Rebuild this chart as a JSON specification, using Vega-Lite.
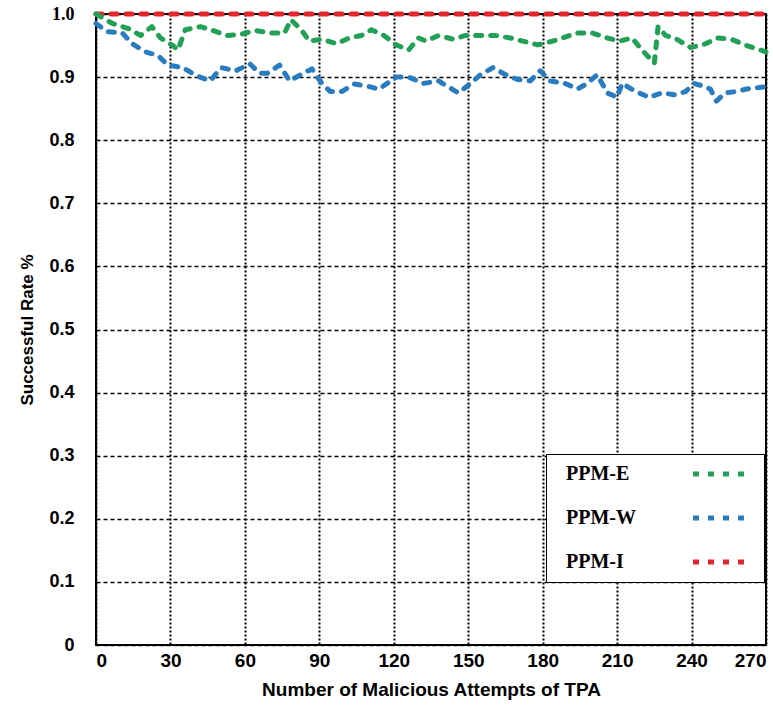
{
  "$schema": "https://vega.github.io/schema/vega-lite/v6.json",
  "width": 670,
  "height": 631,
  "autosize": {"type": "none"},
  "padding": {"left": 96, "top": 14, "right": 7, "bottom": 63},
  "background": "white",
  "config": {
    "view": {"stroke": "#000", "strokeWidth": 2},
    "axis": {"domain": false, "ticks": false, "grid": true, "gridColor": "#000", "gridOpacity": 1}
  },
  "data": {
    "values": [
      {"x": 0, "v": 1.0, "s": "PPM-I"},
      {"x": 270, "v": 1.0, "s": "PPM-I"},
      {"x": 0, "v": 1.0, "s": "PPM-E"},
      {"x": 6.6, "v": 0.985, "s": "PPM-E"},
      {"x": 13, "v": 0.977, "s": "PPM-E"},
      {"x": 18, "v": 0.966, "s": "PPM-E"},
      {"x": 22.5, "v": 0.98, "s": "PPM-E"},
      {"x": 26, "v": 0.962, "s": "PPM-E"},
      {"x": 31, "v": 0.95, "s": "PPM-E"},
      {"x": 33, "v": 0.943, "s": "PPM-E"},
      {"x": 36, "v": 0.975, "s": "PPM-E"},
      {"x": 42, "v": 0.98, "s": "PPM-E"},
      {"x": 47, "v": 0.974, "s": "PPM-E"},
      {"x": 53, "v": 0.966, "s": "PPM-E"},
      {"x": 58.5, "v": 0.968, "s": "PPM-E"},
      {"x": 64, "v": 0.974, "s": "PPM-E"},
      {"x": 70, "v": 0.97, "s": "PPM-E"},
      {"x": 76, "v": 0.97, "s": "PPM-E"},
      {"x": 78.5, "v": 0.991, "s": "PPM-E"},
      {"x": 82.5, "v": 0.976, "s": "PPM-E"},
      {"x": 86, "v": 0.957, "s": "PPM-E"},
      {"x": 91, "v": 0.96, "s": "PPM-E"},
      {"x": 97, "v": 0.953, "s": "PPM-E"},
      {"x": 102, "v": 0.962, "s": "PPM-E"},
      {"x": 107, "v": 0.966, "s": "PPM-E"},
      {"x": 111, "v": 0.975, "s": "PPM-E"},
      {"x": 116, "v": 0.966, "s": "PPM-E"},
      {"x": 121, "v": 0.951, "s": "PPM-E"},
      {"x": 126, "v": 0.943, "s": "PPM-E"},
      {"x": 130, "v": 0.962, "s": "PPM-E"},
      {"x": 133, "v": 0.957, "s": "PPM-E"},
      {"x": 138, "v": 0.966, "s": "PPM-E"},
      {"x": 144, "v": 0.96, "s": "PPM-E"},
      {"x": 149, "v": 0.966, "s": "PPM-E"},
      {"x": 155, "v": 0.966, "s": "PPM-E"},
      {"x": 161, "v": 0.966, "s": "PPM-E"},
      {"x": 167, "v": 0.962, "s": "PPM-E"},
      {"x": 172, "v": 0.957, "s": "PPM-E"},
      {"x": 178, "v": 0.951, "s": "PPM-E"},
      {"x": 184, "v": 0.957, "s": "PPM-E"},
      {"x": 188, "v": 0.962, "s": "PPM-E"},
      {"x": 194, "v": 0.97, "s": "PPM-E"},
      {"x": 200, "v": 0.97, "s": "PPM-E"},
      {"x": 206, "v": 0.962, "s": "PPM-E"},
      {"x": 211, "v": 0.957, "s": "PPM-E"},
      {"x": 216, "v": 0.962, "s": "PPM-E"},
      {"x": 220, "v": 0.943, "s": "PPM-E"},
      {"x": 225, "v": 0.922, "s": "PPM-E"},
      {"x": 226.5, "v": 0.98, "s": "PPM-E"},
      {"x": 229.5, "v": 0.966, "s": "PPM-E"},
      {"x": 234, "v": 0.96, "s": "PPM-E"},
      {"x": 239.5, "v": 0.947, "s": "PPM-E"},
      {"x": 244.5, "v": 0.951, "s": "PPM-E"},
      {"x": 250.6, "v": 0.962, "s": "PPM-E"},
      {"x": 256, "v": 0.96, "s": "PPM-E"},
      {"x": 261.5, "v": 0.951, "s": "PPM-E"},
      {"x": 266, "v": 0.945, "s": "PPM-E"},
      {"x": 270, "v": 0.94, "s": "PPM-E"},
      {"x": 0, "v": 0.985, "s": "PPM-W"},
      {"x": 4.6, "v": 0.972, "s": "PPM-W"},
      {"x": 10.6, "v": 0.97, "s": "PPM-W"},
      {"x": 14.5, "v": 0.953, "s": "PPM-W"},
      {"x": 20, "v": 0.94, "s": "PPM-W"},
      {"x": 25, "v": 0.934, "s": "PPM-W"},
      {"x": 29, "v": 0.919, "s": "PPM-W"},
      {"x": 35, "v": 0.915, "s": "PPM-W"},
      {"x": 40.5, "v": 0.902, "s": "PPM-W"},
      {"x": 46, "v": 0.894, "s": "PPM-W"},
      {"x": 50.5, "v": 0.915, "s": "PPM-W"},
      {"x": 56.4, "v": 0.91, "s": "PPM-W"},
      {"x": 62, "v": 0.921, "s": "PPM-W"},
      {"x": 66, "v": 0.906, "s": "PPM-W"},
      {"x": 69, "v": 0.906, "s": "PPM-W"},
      {"x": 74, "v": 0.919, "s": "PPM-W"},
      {"x": 78, "v": 0.894, "s": "PPM-W"},
      {"x": 82.5, "v": 0.904, "s": "PPM-W"},
      {"x": 87, "v": 0.913, "s": "PPM-W"},
      {"x": 91, "v": 0.89, "s": "PPM-W"},
      {"x": 94.5, "v": 0.877, "s": "PPM-W"},
      {"x": 99, "v": 0.877, "s": "PPM-W"},
      {"x": 104, "v": 0.889, "s": "PPM-W"},
      {"x": 110, "v": 0.885, "s": "PPM-W"},
      {"x": 114, "v": 0.881, "s": "PPM-W"},
      {"x": 121, "v": 0.9, "s": "PPM-W"},
      {"x": 126, "v": 0.9, "s": "PPM-W"},
      {"x": 132, "v": 0.89, "s": "PPM-W"},
      {"x": 138, "v": 0.894, "s": "PPM-W"},
      {"x": 146, "v": 0.875, "s": "PPM-W"},
      {"x": 150, "v": 0.887, "s": "PPM-W"},
      {"x": 155, "v": 0.904, "s": "PPM-W"},
      {"x": 160, "v": 0.915, "s": "PPM-W"},
      {"x": 165, "v": 0.904, "s": "PPM-W"},
      {"x": 170, "v": 0.896, "s": "PPM-W"},
      {"x": 175, "v": 0.894, "s": "PPM-W"},
      {"x": 179, "v": 0.91, "s": "PPM-W"},
      {"x": 183, "v": 0.894, "s": "PPM-W"},
      {"x": 189, "v": 0.89, "s": "PPM-W"},
      {"x": 194, "v": 0.881, "s": "PPM-W"},
      {"x": 198, "v": 0.89, "s": "PPM-W"},
      {"x": 202, "v": 0.904, "s": "PPM-W"},
      {"x": 206, "v": 0.875, "s": "PPM-W"},
      {"x": 210, "v": 0.868, "s": "PPM-W"},
      {"x": 212, "v": 0.89, "s": "PPM-W"},
      {"x": 217.6, "v": 0.877, "s": "PPM-W"},
      {"x": 223, "v": 0.868, "s": "PPM-W"},
      {"x": 228, "v": 0.875, "s": "PPM-W"},
      {"x": 233, "v": 0.872, "s": "PPM-W"},
      {"x": 237.6, "v": 0.877, "s": "PPM-W"},
      {"x": 241, "v": 0.89, "s": "PPM-W"},
      {"x": 243.6, "v": 0.887, "s": "PPM-W"},
      {"x": 247.6, "v": 0.881, "s": "PPM-W"},
      {"x": 250, "v": 0.862, "s": "PPM-W"},
      {"x": 253.5, "v": 0.875, "s": "PPM-W"},
      {"x": 258, "v": 0.877, "s": "PPM-W"},
      {"x": 262, "v": 0.881, "s": "PPM-W"},
      {"x": 270, "v": 0.885, "s": "PPM-W"}
    ]
  },
  "mark": {"type": "line", "strokeWidth": 5, "strokeDash": [6, 9], "strokeCap": "round", "strokeJoin": "round"},
  "encoding": {
    "x": {
      "field": "x", "type": "quantitative",
      "scale": {"domain": [0, 270], "nice": false, "zero": false},
      "axis": {
        "values": [0, 30, 60, 90, 120, 150, 180, 210, 240, 270],
        "title": "Number of Malicious Attempts of TPA",
        "titleFont": "Liberation Sans", "titleFontSize": 19, "titleFontWeight": "bold", "titleColor": "#000",
        "titlePadding": 10,
        "labelFont": "Liberation Sans Narrow, Liberation Sans", "labelFontSize": 19, "labelFontWeight": "bold", "labelColor": "#000",
        "labelPadding": 6, "labelFlush": true,
        "gridDash": [2, 2], "gridWidth": 2
      }
    },
    "y": {
      "field": "v", "type": "quantitative",
      "scale": {"domain": [0, 1], "nice": false},
      "axis": {
        "values": [0, 0.1, 0.2, 0.3, 0.4, 0.5, 0.6, 0.7, 0.8, 0.9, 1.0],
        "labelExpr": "datum.value == 0 ? '0' : format(datum.value, '.1f')",
        "title": "Successful Rate %",
        "titleFont": "Liberation Sans", "titleFontSize": 17, "titleFontWeight": "bold", "titleColor": "#000",
        "titlePadding": 12,
        "labelFont": {"condition": {"test": "datum.value == 1", "value": "Liberation Serif"}, "value": "Liberation Sans"},
        "labelFontSize": 18, "labelFontWeight": "bold", "labelColor": "#000",
        "labelPadding": 22,
        "gridDash": [4, 3], "gridWidth": 1.5
      }
    },
    "color": {
      "field": "s", "type": "nominal",
      "scale": {"domain": ["PPM-E", "PPM-W", "PPM-I"], "range": ["#22a055", "#2a7cc0", "#e4252b"]},
      "legend": {
        "title": null,
        "orient": "none", "legendX": 450, "legendY": 440,
        "fillColor": "white", "strokeColor": "#000", "padding": 10,
        "symbolType": "M-1,0L16,0", "symbolSize": 36, "symbolStrokeWidth": 5, "symbolDash": [6, 9],
        "symbolOffset": 130, "labelOffset": -140,
        "labelFont": "Liberation Serif", "labelFontSize": 20, "labelFontWeight": "bold", "labelColor": "#000",
        "rowPadding": 24, "labelLimit": 200
      }
    }
  }
}
